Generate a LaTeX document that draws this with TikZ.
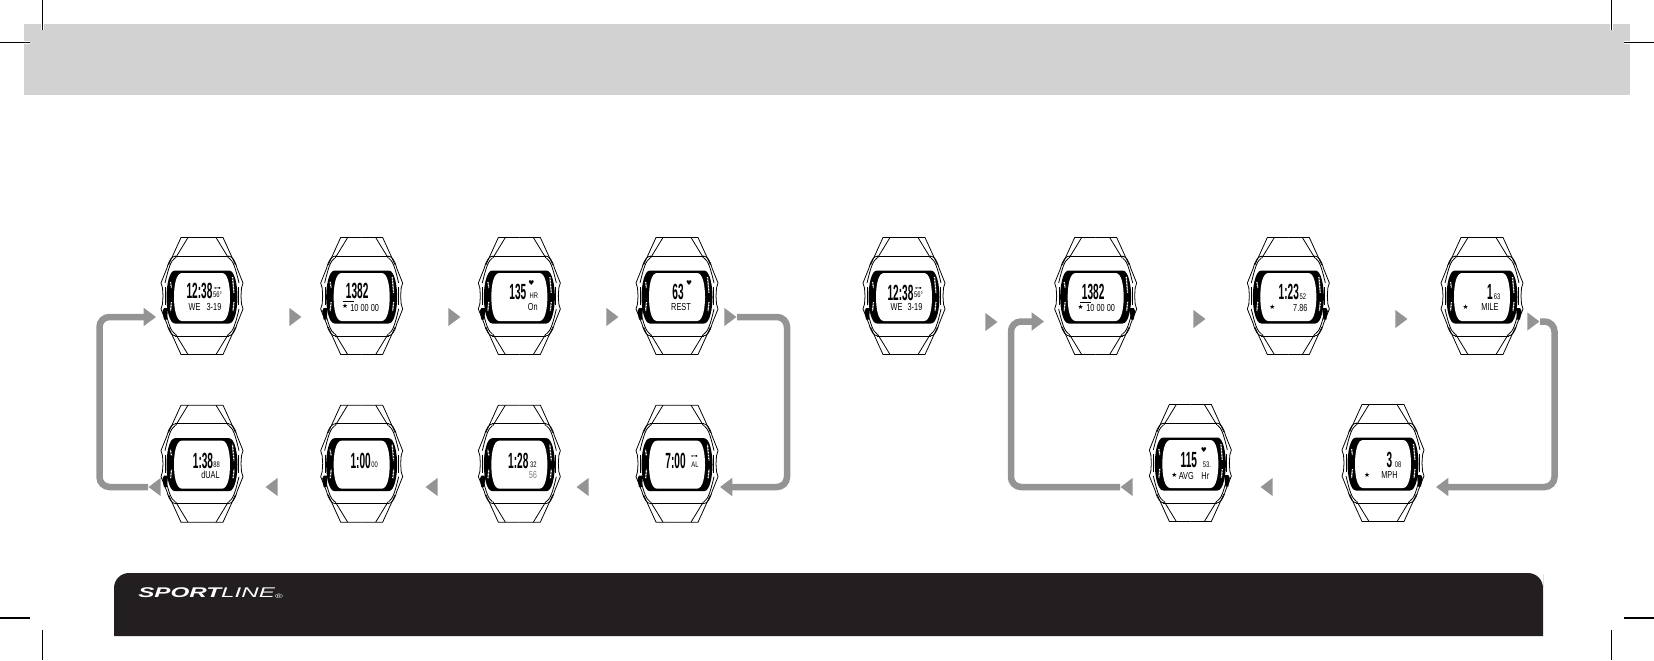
\documentclass[tikz,border=0pt]{standalone}
\usepackage{fontspec}
\usepackage{xcolor}
\usepackage{tikz}
\usetikzlibrary{arrows.meta,positioning,calc,shapes.geometric}
\setmainfont{Liberation Sans}
\newfontfamily\lcdbigfont[FakeStretch=.46]{Liberation Sans}
\newfontfamily\lcdsmallfont[FakeStretch=.72]{Liberation Sans}
\newfontfamily\symfont{DejaVu Sans}
\newfontfamily\logofont[FakeStretch=1.72]{Liberation Sans}
\definecolor{bandgray}{HTML}{D2D2D2}
\definecolor{arrowgray}{HTML}{949494}
\definecolor{footblack}{HTML}{231F20}
\tikzset{
  pics/lcdwatch/.style={code={
    \foreach \sx in {1,-1} \foreach \sy in {1,-1} {
      \begin{scope}[xscale=\sx,yscale=\sy,line width=.45pt]
        \draw (0,-58.5) -- (21,-58.5) -- (33.5,-31);
        \draw (14,-58.5) -- (26.5,-38);
        \draw (0,-40) -- (27,-40);
        \draw (26,-40) .. controls (30,-40) and (33,-36) .. (35,-28) -- (41,-13) -- (39.5,-8) -- (39,0);
        \draw (27,-38) .. controls (31,-35) and (33,-30) .. (37,-13);
        \draw (36.5,-9) -- (36.5,0);
      \end{scope}
    }
    \fill[black] (-27,-25.5) -- (27,-25.5) .. controls (33,-25.5) and (35.5,-10) .. (35.5,1)
      .. controls (35.5,12) and (33,27.5) .. (27,27.5) -- (-27,27.5)
      .. controls (-33,27.5) and (-35.5,12) .. (-35.5,1) .. controls (-35.5,-10) and (-33,-25.5) .. cycle;
    \fill[white] (-20,-23) -- (20,-23) .. controls (26,-23) and (28,-10) .. (28,1)
      .. controls (28,12) and (26,25) .. (20,25) -- (-20,25)
      .. controls (-26,25) and (-28,12) .. (-28,1) .. controls (-28,-10) and (-26,-23) .. cycle;
    \draw[bezelmark] (-31.5,-14) -- (-30.5,-8);
    \draw[bezelmark] (-30.5,6) -- (-31.5,15);
    \draw[bezelmark] (30.5,-19) -- (32,-3);
    \draw[bezelmark] (32,6) -- (31,15);
    \fill[black,xscale=#1] (34,12) -- (38,12) -- (39.5,15) -- (38,23.5) -- (35,23.5) -- cycle;
  }},
  bezelmark/.style={white,line width=.7pt,dash pattern=on .5pt off .35pt}
}
\begin{document}
\begin{tikzpicture}[
  x=0.02cm,y=-0.02cm,
  node distance=1cm and 1.5cm,
  watchbox/.style={rectangle,minimum width=1.64cm,minimum height=2.34cm,inner sep=0pt},
  lcdbig/.style={inner sep=0pt,font=\lcdbigfont\bfseries\fontsize{12.5}{12.5}\selectfont},
  lcdmid/.style={inner sep=0pt,font=\lcdsmallfont\fontsize{5.8}{5.8}\selectfont},
  lcdtiny/.style={inner sep=0pt,font=\lcdsmallfont\fontsize{4.6}{4.6}\selectfont},
  lcdsym/.style={inner sep=0pt,font=\symfont\fontsize{3.8}{3.8}\selectfont},
  stepright/.style={isosceles triangle,isosceles triangle apex angle=74,fill=arrowgray,inner sep=0pt,
                    minimum height=0.24cm,anchor=apex},
  stepleft/.style={stepright,shape border rotate=180},
  loopline/.style={draw=arrowgray,line width=3.7pt,rounded corners=0.2cm,
                   -{Triangle[width=10pt,length=7pt]},arrowgray},
  cropmark/.style={line width=.6pt,preaction={draw,white,line width=1.5pt}}
]
  \useasboundingbox (0,0) rectangle (1654,660);
  % header and footer
  \fill[bandgray] (24,24) rectangle (1630,95);
  \fill[footblack] (114,636) -- (114,589) [rounded corners=0.3cm] -- (114,573) -- (1543,573) -- (1543,589) [sharp corners] -- (1543,636) -- cycle;
  \node[anchor=west,inner sep=0pt,white,font=\logofont\fontsize{8}{8}\selectfont] (logo) at (138,593)
    {\bfseries\itshape SPORT\mdseries LINE\raisebox{-.2pt}{\fontsize{3.5}{3.5}\selectfont ®}};
  % crop marks
  \draw[cropmark] (42.5,0) -- (42.5,30);
  \draw[cropmark] (0,42.5) -- (30,42.5);
  \draw[cropmark] (1611.5,0) -- (1611.5,30);
  \draw[cropmark] (1654,42.5) -- (1624,42.5);
  \draw[cropmark] (42.5,630) -- (42.5,660);
  \draw[cropmark] (0,618) -- (30,618);
  \draw[cropmark] (1611.5,630) -- (1611.5,660);
  \draw[cropmark] (1654,618) -- (1624,618);
  % left group
  \node[watchbox] (w1) at (202,296) {};
  \node[watchbox,right=1.54cm of w1] (w2) {};
  \node[watchbox,right=of w2] (w3) {};
  \node[watchbox,right=of w3] (w4) {};
  \node[watchbox,below=of w1] (w5) {};
  \node[watchbox,below=of w2] (w6) {};
  \node[watchbox,below=of w3] (w7) {};
  \node[watchbox,below=of w4] (w8) {};
  % right group
  \node[watchbox] (w9) at (904,296) {};
  \node[watchbox,right=2.18cm of w9] (w10) {};
  \node[watchbox,right=2.2cm of w10] (w11) {};
  \node[watchbox,right=2.22cm of w11] (w12) {};
  \node[watchbox] (w14) at (1383,463) {};
  \node[watchbox,left=2.2cm of w14] (w13) {};
  \pic at (w1) {lcdwatch=-1};
  \pic at (w2) {lcdwatch=-1};
  \pic at (w3) {lcdwatch=-1};
  \pic at (w4) {lcdwatch=-1};
  \pic at (w5) {lcdwatch=-1};
  \pic at (w6) {lcdwatch=-1};
  \pic at (w7) {lcdwatch=-1};
  \pic at (w8) {lcdwatch=-1};
  \pic at (w9) {lcdwatch=-1};
  \pic at (w10) {lcdwatch=1};
  \pic at (w11) {lcdwatch=1};
  \pic at (w12) {lcdwatch=1};
  \pic at (w13) {lcdwatch=1};
  \pic at (w14) {lcdwatch=1};
  % screen texts
  \node[lcdbig] (w1a) at ($(w1)+(-2.5,-5)$) {12:38};
  \node[lcdtiny] (w1b) at ($(w1)+(15.5,-1.5)$) {56°};
  \node[lcdsym] (w1c) at ($(w1)+(15.5,-7.5)$) {⊶};
  \node[lcdmid] (w1d) at ($(w1)+(-7.5,10.5)$) {WE};
  \node[lcdmid] (w1e) at ($(w1)+(12,10.5)$) {3-19};
  \node[lcdbig] (w2a) at ($(w2)+(-4.5,-5)$) {1382};
  \node[lcdsym] (w2b) at ($(w2)+(-16.5,10)$) {★};
  \node[lcdmid] (w2c) at ($(w2)+(3,12)$) {10 00 00};
  \draw[line width=.4pt] ($(w2)+(-19,5.5)$) -- ($(w2)+(-8,5.5)$);
  \node[lcdbig] (w3a) at ($(w3)+(-1.5,-4.5)$) {135};
  \node[lcdsym] (w3b) at ($(w3)+(12,-13)$) {♥};
  \node[lcdtiny] (w3c) at ($(w3)+(14.5,-0.5)$) {HR};
  \node[lcdmid] (w3d) at ($(w3)+(13.5,11)$) {On};
  \node[lcdbig] (w4a) at ($(w4)+(1,-4.5)$) {63};
  \node[lcdsym] (w4b) at ($(w4)+(12,-13)$) {♥};
  \node[lcdmid] (w4c) at ($(w4)+(4,10.5)$) {REST};
  \node[lcdbig] (w5a) at ($(w5)+(1,-3)$) {1:38};
  \node[lcdtiny] (w5b) at ($(w5)+(14.5,1.5)$) {88};
  \node[lcdmid] (w5c) at ($(w5)+(8.5,11.5)$) {dUAL};
  \node[lcdbig] (w6a) at ($(w6)+(-1,-3)$) {1:00};
  \node[lcdtiny] (w6b) at ($(w6)+(13,1.5)$) {00};
  \node[lcdbig] (w7a) at ($(w7)+(-1,-3)$) {1:28};
  \node[lcdtiny] (w7b) at ($(w7)+(14,1.5)$) {32};
  \node[lcdmid,gray] (w7c) at ($(w7)+(13.5,11.5)$) {56};
  \node[lcdbig] (w8a) at ($(w8)+(-1.5,-3)$) {7:00};
  \node[lcdsym] (w8b) at ($(w8)+(17.5,-6.5)$) {⊶};
  \node[lcdtiny] (w8c) at ($(w8)+(18,1.5)$) {AL};
  \node[lcdbig] (w9a) at ($(w9)+(-3.5,-3.5)$) {12:38};
  \node[lcdtiny] (w9b) at ($(w9)+(14.5,-1)$) {56°};
  \node[lcdsym] (w9c) at ($(w9)+(14.5,-7)$) {⊶};
  \node[lcdmid] (w9d) at ($(w9)+(-7.5,11)$) {WE};
  \node[lcdmid] (w9e) at ($(w9)+(11,11)$) {3-19};
  \node[lcdbig] (w10a) at ($(w10)+(-2.5,-4)$) {1382};
  \node[lcdsym] (w10b) at ($(w10)+(-15,11)$) {★};
  \node[lcdmid] (w10c) at ($(w10)+(5,12)$) {10 00 00};
  \draw[line width=.4pt] ($(w10)+(-16,6)$) -- ($(w10)+(-5,6)$);
  \node[lcdbig] (w11a) at ($(w11)+(0.5,-4)$) {1:23};
  \node[lcdtiny] (w11b) at ($(w11)+(14.5,0.5)$) {52};
  \node[lcdsym] (w11c) at ($(w11)+(-16,11)$) {★};
  \node[lcdmid] (w11d) at ($(w11)+(12,11.5)$) {7.86};
  \node[lcdbig] (w12a) at ($(w12)+(8,-4)$) {1};
  \node[lcdtiny] (w12b) at ($(w12)+(15,0.5)$) {63};
  \node[lcdsym] (w12c) at ($(w12)+(-16.5,11)$) {★};
  \node[lcdmid] (w12d) at ($(w12)+(8,10.5)$) {MILE};
  \node[lcdbig] (w13a) at ($(w13)+(-1.5,-3)$) {115};
  \node[lcdsym] (w13b) at ($(w13)+(13.5,-13)$) {♥};
  \node[lcdtiny] (w13c) at ($(w13)+(16.5,1.5)$) {53.};
  \node[lcdsym] (w13d) at ($(w13)+(-16,12)$) {★};
  \node[lcdmid] (w13e) at ($(w13)+(-4,12.5)$) {AVG};
  \node[lcdmid] (w13f) at ($(w13)+(15,12.5)$) {Hr};
  \node[lcdbig] (w14a) at ($(w14)+(6.5,-3)$) {3};
  \node[lcdtiny] (w14b) at ($(w14)+(15,1.5)$) {08};
  \node[lcdsym] (w14c) at ($(w14)+(-16,12.5)$) {★};
  \node[lcdmid] (w14d) at ($(w14)+(6.5,12)$) {MPH};
  % step triangles
  \node[stepright] (t1) at (302,317) {};
  \node[stepright] (t2) at (461,317) {};
  \node[stepright] (t3) at (619,317) {};
  \node[stepright] (t4) at (737,317) {};
  \node[stepleft] (t5) at (148,487) {};
  \node[stepleft] (t6) at (265,487) {};
  \node[stepleft] (t7) at (425,487) {};
  \node[stepleft] (t8) at (576,487) {};
  \node[stepright] (t9) at (998,322) {};
  \node[stepright] (t10) at (1206,319) {};
  \node[stepright] (t11) at (1408,319) {};
  \node[stepright] (t12) at (1540,321.5) {};
  \node[stepleft] (t13) at (1120,487) {};
  \node[stepleft] (t14) at (1260,487) {};
  % loop arrows
  \coordinate (c1) at (156,317);
  \coordinate (c2) at (720,487);
  \coordinate (c3) at (1044,321.5);
  \coordinate (c4) at (1436,487);
  \draw[loopline] (t5.apex) -- (99.5,487) -- (99.5,317) -- (c1);
  \draw[loopline] (t4.apex) -- (787,317) -- (787,487) -- (c2);
  \draw[loopline] (t13.apex) -- (1011,487) -- (1011,321.5) -- (c3);
  \draw[loopline] (t12.apex) -- (1554.5,321.5) -- (1554.5,487) -- (c4);
\end{tikzpicture}
\end{document}
